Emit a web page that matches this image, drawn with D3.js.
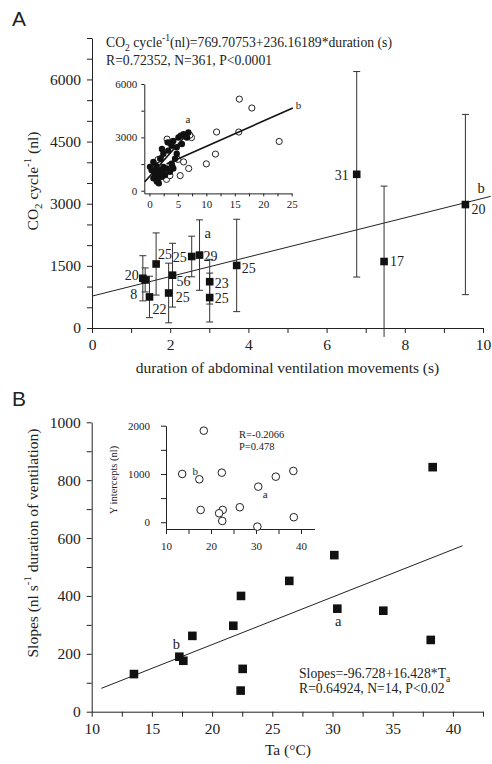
<!DOCTYPE html>
<html>
<head>
<meta charset="utf-8">
<script src="https://cdn.jsdelivr.net/npm/d3@7/dist/d3.min.js"></script>
<style>
  body { margin: 0; background: #fff; }
</style>
</head>
<body>
<svg id="chart" width="492" height="764"></svg>
<script>
// ---- panel A, main: mean CO2 per cycle vs duration (one square per species) ----
var durA   = [1.30, 1.36, 1.47, 1.64, 1.96, 2.06, 2.55, 2.75, 3.01, 3.01, 3.70, 6.77, 7.47, 9.55];
var co2A   = [1200, 1160, 750, 1545, 845, 1275, 1726, 1760, 1118, 735, 1510, 3710, 1605, 2980];
var errA   = [545, 290, 500, 750, 720, 770, 490, 850, 540, 590, 1115, 2480, 1820, 2175];
var nA     = ["20", "8", "22", "25", "25", "56", "25", "29", "23", "25", "25", "31", "17", "20"];
var fitA   = { intercept: 769.70753, slope: 236.16189, from: 0, to: 10.2 };

// ---- panel A, inset: individual records for species a (filled) and b (open) ----
var insetDurA = [3.2, 4.2, 5.1, 6.0, 6.85, 6.6, 5.7, 4.8, 3.9, 2.2, 2.45, 3.3, 1.9, 0.7, 0.1, 0.4, 1.3, 1.9, 2.45, 3.05,
                 3.9, 4.2, 3.6, 1.0, 1.6, 2.2, 0.7, 2.75, 1.3, 4.5, 4.8, 1.65, 0.9, 1.5, 2.0, 2.5, 1.2, 4.0, 5.5, 6.3, 3.6];
var insetCo2A = [2720, 2800, 2990, 3175, 3270, 2990, 2625, 2443, 2530, 2350, 2075, 2256, 1800, 1618, 1343, 1156, 1250, 1068, 1343, 1250,
                 1525, 1250, 1068, 880, 700, 790, 700, 880, 517, 1800, 2075, 424, 1050, 1000, 1150, 1000, 1400, 1400, 3100, 3050, 2700];
var insetDurB = [15.8, 18.0, 11.8, 15.7, 22.8, 11.6, 10.0, 6.9, 5.4, 6.0, 5.0, 7.4, 7.1, 3.1, 3.0, 3.6, 2.0, 1.5];
var insetCo2B = [5150, 4650, 3300, 3300, 2770, 2060, 1510, 1250, 850, 1620, 1760, 2990, 3120, 2900, 640, 850, 1800, 1750];
var insetLineA = [[-0.8, 510], [7.1, 3360]];
var insetLineB = [[3.0, 1500], [25.2, 4650]];

// ---- panel B, main: slopes vs ambient temperature ----
var taB     = [13.51, 17.28, 17.61, 18.36, 21.76, 22.40, 22.54, 22.37, 26.41, 30.40, 34.22, 38.16, 30.15, 38.32];
var slopesB = [130, 190, 176, 262, 297, 400, 148, 73, 452, 356, 349, 248, 541, 845];
var fitB    = { intercept: -96.728, slope: 16.428, from: 10.8, to: 40.8 };

// ---- panel B, inset: y intercepts vs ambient temperature ----
var taInset   = [18.4, 13.6, 17.4, 22.4, 38.3, 34.4, 30.5, 17.7, 22.6, 21.8, 22.5, 26.4, 38.4, 30.3];
var intercept = [1897, 1000, 890, 1027, 1062, 944, 737, 255, 255, 186, 27, 311, 104, -91];

// tick values
var ticksAy = d3.range(0, 7001, 500);
var ticksAx = d3.range(0, 11, 1);
var ticksIAy = d3.range(0, 6001, 1500);
var ticksIAx = d3.range(0, 25.1, 2.5);
var ticksBy = d3.range(0, 1001, 100);
var ticksBx = d3.range(10, 42.6, 2.5);
var ticksIBy = d3.range(0, 2001, 500);
var ticksIBx = d3.range(10, 40.1, 5);

var INK = "#222";
var SERIF = "'Liberation Serif', 'Times New Roman', serif";
var SANS = "'Liberation Sans', Arial, sans-serif";

var svg = d3.select("#chart");

// label placement next to the squares of panel A (dx, dy, anchor)
var labelPosA = [[-4, -3, "end"], [-8, 14, "end"], [3, 12, "start"], [2, -10, "start"], [7, 4, "start"],
                 [4, 6, "start"], [-5, 1, "end"], [4, 1, "start"], [5, 1, "start"], [5, 1, "start"],
                 [5, 3, "start"], [-8, 1, "end"], [6, 0, "start"], [6, 5, "start"]];

function styleAxis(g, fontSize) {
    g.attr("font-family", null).attr("font-size", null);
    g.selectAll("path, line").attr("stroke", INK).attr("stroke-width", 1);
    g.selectAll("text")
        .attr("font-family", SERIF)
        .attr("font-size", fontSize)
        .attr("fill", INK);
    return g;
}

function rich(t, parts, fs) {
    var shift = 0;
    parts.forEach(function (p) {
        var target = p[1] === "sub" ? 0.28 * fs : (p[1] === "sup" ? -0.42 * fs : 0);
        var ts = t.append("tspan").attr("dy", target - shift).text(p[0]);
        if (p[1]) ts.attr("font-size", fs * 0.7);
        shift = target;
    });
}

function plainText(x, y, str, fs, anchor) {
    return svg.append("text")
        .attr("x", x)
        .attr("y", y)
        .attr("font-family", SERIF)
        .attr("font-size", fs)
        .attr("fill", INK)
        .attr("text-anchor", anchor || "start")
        .text(str);
}

// =================== PANEL A ===================
var xA = d3.scaleLinear().domain([0, 10]).range([92, 483]);
var yA = d3.scaleLinear().domain([0, 7000]).range([328, 38]);

styleAxis(svg.append("g")
    .attr("transform", "translate(" + xA(0) + ",0)")
    .call(d3.axisLeft(yA).tickValues(ticksAy).tickSize(5).tickSizeOuter(0).tickPadding(6)
        .tickFormat(function (d) { return d % 1500 === 0 ? d : ""; })), 15.5);

styleAxis(svg.append("g")
    .attr("transform", "translate(0," + yA(0) + ")")
    .call(d3.axisBottom(xA).tickValues(ticksAx).tickSize(5).tickSizeOuter(0).tickPadding(6)
        .tickFormat(function (d) { return d % 2 === 0 ? d : ""; })), 15.5);

// regression line
svg.append("line")
    .attr("x1", xA(fitA.from))
    .attr("y1", yA(fitA.intercept + fitA.slope * fitA.from))
    .attr("x2", xA(fitA.to))
    .attr("y2", yA(fitA.intercept + fitA.slope * fitA.to))
    .attr("stroke", INK)
    .attr("stroke-width", 1);

// error bars
var gErr = svg.append("g").attr("stroke", "#333").attr("stroke-width", 1);
durA.forEach(function (d, i) {
    var hi = co2A[i] + errA[i];
    var lo = co2A[i] - errA[i];
    gErr.append("line").attr("x1", xA(d)).attr("x2", xA(d)).attr("y1", yA(hi)).attr("y2", yA(lo));
    gErr.append("line").attr("x1", xA(d) - 3.5).attr("x2", xA(d) + 3.5).attr("y1", yA(hi)).attr("y2", yA(hi));
    if (lo > 0) {
        gErr.append("line").attr("x1", xA(d) - 3.5).attr("x2", xA(d) + 3.5).attr("y1", yA(lo)).attr("y2", yA(lo));
    }
});

svg.append("g").selectAll("rect")
    .data(durA)
    .enter().append("rect")
    .attr("x", function (d) { return xA(d) - 3.8; })
    .attr("y", function (d, i) { return yA(co2A[i]) - 3.8; })
    .attr("width", 7.6)
    .attr("height", 7.6)
    .attr("fill", "#111");

svg.append("g").selectAll("text")
    .data(nA)
    .enter().append("text")
    .attr("x", function (d, i) { return xA(durA[i]) + labelPosA[i][0]; })
    .attr("y", function (d, i) { return yA(co2A[i]) + labelPosA[i][1]; })
    .attr("dy", "0.35em")
    .attr("text-anchor", function (d, i) { return labelPosA[i][2]; })
    .attr("font-family", SERIF)
    .attr("font-size", 14)
    .attr("fill", INK)
    .text(function (d) { return d; });

plainText(xA(durA[7]) + 5, yA(co2A[7]) - 22, "a", 14.5).attr("dy", "0.35em");
plainText(xA(durA[13]) + 12, yA(co2A[13]) - 17, "b", 14.5).attr("dy", "0.35em");

// equation
rich(plainText(106, 47, "", 13.7), [["CO", ""], ["2", "sub"], [" cycle", ""], ["-1", "sup"],
    ["(nl)=769.70753+236.16189*duration (s)", ""]], 13.7);
plainText(106, 64.5, "R=0.72352, N=361, P<0.0001", 13.7);

// axis titles
var yTitleA = svg.append("text")
    .attr("transform", "translate(37.5," + 181 + ") rotate(-90)")
    .attr("text-anchor", "middle")
    .attr("font-family", SERIF)
    .attr("font-size", 15.5)
    .attr("fill", INK);
rich(yTitleA, [["CO", ""], ["2", "sub"], [" cycle", ""], ["-1", "sup"], [" (nl)", ""]], 15.5);

plainText(287.5, 373, "duration of abdominal ventilation movements (s)", 15.5, "middle");

svg.append("text").attr("x", 12).attr("y", 26)
    .attr("font-family", SANS).attr("font-size", 21).attr("fill", INK).text("A");

// ---- inset A ----
var xIA = d3.scaleLinear().domain([-0.9, 25]).range([144.3, 291.7]);
var yIA = d3.scaleLinear().domain([-150, 6000]).range([193.4, 84]);

styleAxis(svg.append("g")
    .attr("transform", "translate(" + xIA(-0.9) + ",0)")
    .call(d3.axisLeft(yIA).tickValues(ticksIAy).tickSize(3).tickSizeOuter(0).tickPadding(4)
        .tickFormat(function (d) { return d % 3000 === 0 ? d : ""; })), 11);

styleAxis(svg.append("g")
    .attr("transform", "translate(0," + yIA(-150) + ")")
    .call(d3.axisBottom(xIA).tickValues(ticksIAx).tickSize(3).tickSizeOuter(0).tickPadding(4)
        .tickFormat(function (d) { return d % 5 === 0 ? d : ""; })), 11);

svg.append("g").selectAll("circle")
    .data(insetDurB)
    .enter().append("circle")
    .attr("cx", function (d) { return xIA(d); })
    .attr("cy", function (d, i) { return yIA(insetCo2B[i]); })
    .attr("r", 3.1)
    .attr("fill", "#fff")
    .attr("stroke", INK)
    .attr("stroke-width", 1);

svg.append("g").selectAll("circle")
    .data(insetDurA)
    .enter().append("circle")
    .attr("cx", function (d) { return xIA(d); })
    .attr("cy", function (d, i) { return yIA(insetCo2A[i]); })
    .attr("r", 3.2)
    .attr("fill", "#111");

[insetLineA, insetLineB].forEach(function (seg) {
    svg.append("line")
        .attr("x1", xIA(seg[0][0])).attr("y1", yIA(seg[0][1]))
        .attr("x2", xIA(seg[1][0])).attr("y2", yIA(seg[1][1]))
        .attr("stroke", "#111")
        .attr("stroke-width", 1.6);
});

plainText(xIA(insetLineA[1][0]) - 2, yIA(insetLineA[1][1]) - 12, "a", 11, "middle").attr("dy", "0.35em");
plainText(xIA(insetLineB[1][0]) + 3, yIA(insetLineB[1][1]) - 3, "b", 11).attr("dy", "0.35em");

// =================== PANEL B ===================
var xB = d3.scaleLinear().domain([10, 42.5]).range([91.7, 483]);
var yB = d3.scaleLinear().domain([0, 1000]).range([711.7, 422.3]);

styleAxis(svg.append("g")
    .attr("transform", "translate(" + xB(10) + ",0)")
    .call(d3.axisLeft(yB).tickValues(ticksBy).tickSize(5).tickSizeOuter(0).tickPadding(6)
        .tickFormat(function (d) { return d % 200 === 0 ? d : ""; })), 15.5);

styleAxis(svg.append("g")
    .attr("transform", "translate(0," + yB(0) + ")")
    .call(d3.axisBottom(xB).tickValues(ticksBx).tickSize(5).tickSizeOuter(0).tickPadding(6)
        .tickFormat(function (d) { return d % 5 === 0 ? d : ""; })), 15.5);

svg.append("line")
    .attr("x1", xB(fitB.from))
    .attr("y1", yB(fitB.intercept + fitB.slope * fitB.from))
    .attr("x2", xB(fitB.to))
    .attr("y2", yB(fitB.intercept + fitB.slope * fitB.to))
    .attr("stroke", INK)
    .attr("stroke-width", 1);

svg.append("g").selectAll("rect")
    .data(taB)
    .enter().append("rect")
    .attr("x", function (d) { return xB(d) - 4.3; })
    .attr("y", function (d, i) { return yB(slopesB[i]) - 4.3; })
    .attr("width", 8.6)
    .attr("height", 8.6)
    .attr("fill", "#111");

plainText(xB(taB[1]) - 3, yB(slopesB[1]) - 13, "b", 14.5, "middle").attr("dy", "0.35em");
plainText(xB(taB[9]) + 1, yB(slopesB[9]) + 12, "a", 14.5, "middle").attr("dy", "0.35em");

rich(plainText(299, 678, "", 13.7), [["Slopes=-96.728+16.428*T", ""], ["a", "sub"]], 13.7);
plainText(299, 693, "R=0.64924, N=14, P<0.02", 13.7);

var yTitleB = svg.append("text")
    .attr("transform", "translate(37.5," + 543 + ") rotate(-90)")
    .attr("text-anchor", "middle")
    .attr("font-family", SERIF)
    .attr("font-size", 15.5)
    .attr("fill", INK);
rich(yTitleB, [["Slopes (nl s", ""], ["-1", "sup"], [" duration of ventilation)", ""]], 15.5);

plainText(288, 755, "Ta (\u00B0C)", 15.5, "middle");

svg.append("text").attr("x", 12).attr("y", 406)
    .attr("font-family", SANS).attr("font-size", 21).attr("fill", INK).text("B");

// ---- inset B ----
var xIB = d3.scaleLinear().domain([10, 43]).range([166, 314.5]);
var yIB = d3.scaleLinear().domain([-140, 2000]).range([529, 425.7]);

styleAxis(svg.append("g")
    .attr("transform", "translate(" + xIB(10) + ",0)")
    .call(d3.axisLeft(yIB).tickValues(ticksIBy).tickSize(5).tickSizeOuter(0).tickPadding(11)
        .tickFormat(function (d) { return d % 1000 === 0 ? d : ""; })), 11);

styleAxis(svg.append("g")
    .attr("transform", "translate(0," + yIB(-140) + ")")
    .call(d3.axisBottom(xIB).tickValues(ticksIBx).tickSize(5).tickSizeOuter(0).tickPadding(8)
        .tickFormat(function (d) { return d % 10 === 0 ? d : ""; })), 11);

svg.append("g").selectAll("circle")
    .data(taInset)
    .enter().append("circle")
    .attr("cx", function (d) { return xIB(d); })
    .attr("cy", function (d, i) { return yIB(intercept[i]); })
    .attr("r", 3.8)
    .attr("fill", "#fff")
    .attr("stroke", INK)
    .attr("stroke-width", 1);

plainText(xIB(taInset[2]) - 4, yIB(intercept[2]) - 8, "b", 11, "middle").attr("dy", "0.35em");
plainText(xIB(taInset[6]) + 7, yIB(intercept[6]) + 7, "a", 11, "middle").attr("dy", "0.35em");

plainText(239, 437.5, "R=-0.2066", 10.5);
plainText(239, 449.5, "P=0.478", 10.5);

svg.append("text")
    .attr("transform", "translate(117,480) rotate(-90)")
    .attr("text-anchor", "middle")
    .attr("font-family", SERIF)
    .attr("font-size", 10.5)
    .attr("fill", INK)
    .text("Y intercepts (nl)");
</script>
</body>
</html>
